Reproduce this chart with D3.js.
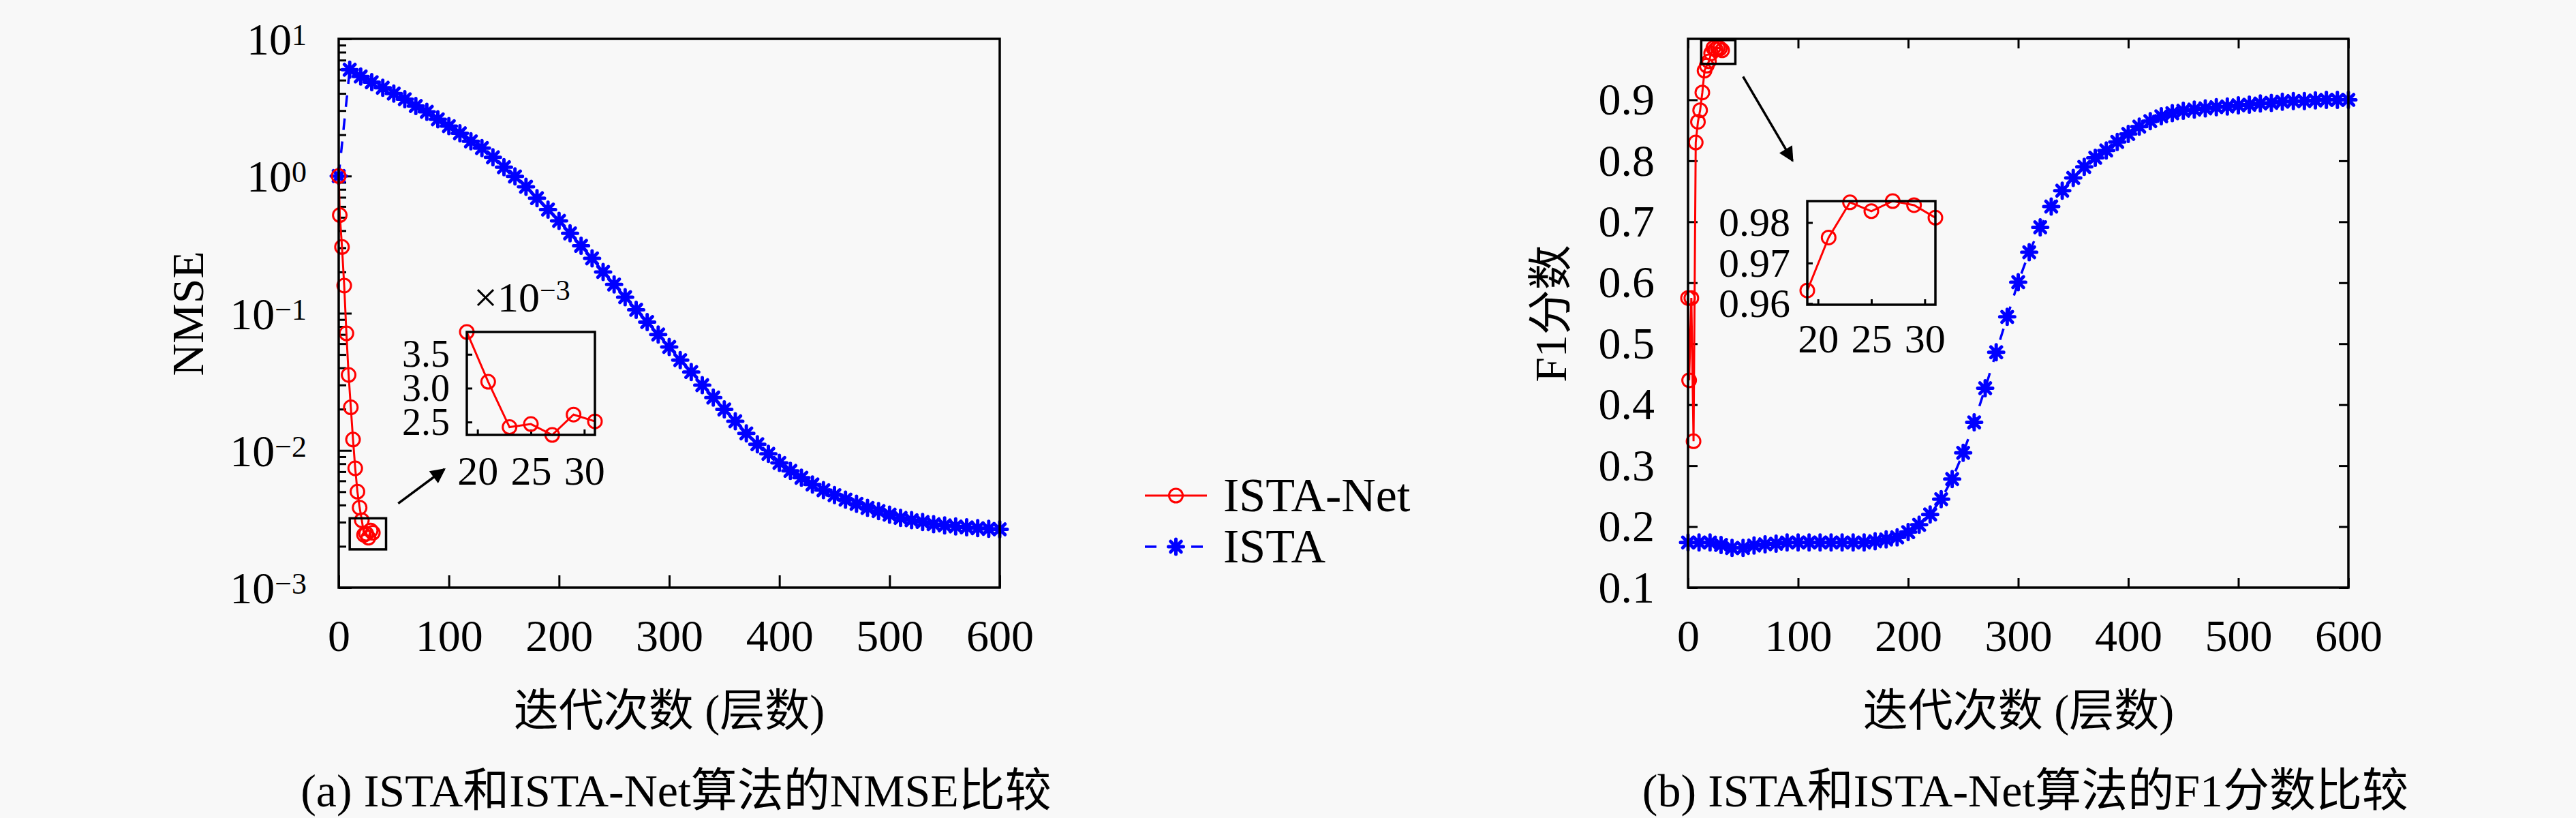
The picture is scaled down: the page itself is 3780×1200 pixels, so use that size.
<!DOCTYPE html>
<html>
<head>
<meta charset="utf-8">
<script src="https://cdn.jsdelivr.net/npm/d3@7"></script>
<style>
  body { margin: 0; background: #f8f8f8; }
  text { font-family: "Liberation Serif", "Noto Sans CJK SC", serif; fill: #000; }
</style>
</head>
<body>
<svg id="fig" width="3780" height="1200"></svg>
<script>
// ISTA-Net (one point per layer count)
var netLayers = [0, 1, 3, 5, 7, 9, 11, 13, 15, 17, 19, 21, 23, 25, 27, 29, 31];
var netNmse = [1.0, 0.519, 0.304, 0.159, 0.0713, 0.0355, 0.0206, 0.012, 0.0074, 0.005,
               0.00383, 0.003095, 0.002425, 0.00247, 0.00231, 0.00261, 0.00251];
var netF1 = [0.575, 0.44, 0.575, 0.34, 0.83, 0.864, 0.883, 0.912, 0.948, 0.956,
             0.9632, 0.9763, 0.985, 0.9828, 0.9853, 0.9843, 0.9812];

// ISTA (iterations)
var istaIters = [0, 10, 20, 30, 40, 50, 60, 70, 80, 90, 100, 110, 120, 130, 140, 150, 160, 170, 180, 190,
                 200, 210, 220, 230, 240, 250, 260, 270, 280, 290, 300, 310, 320, 330, 340, 350, 360, 370,
                 380, 390, 400, 410, 420, 430, 440, 450, 460, 470, 480, 490, 500, 510, 520, 530, 540, 550,
                 560, 570, 580, 590, 600];
var istaNmse = [1.0, 5.96, 5.32, 4.83, 4.40, 3.99, 3.63, 3.24, 2.94, 2.59, 2.31, 2.05, 1.79, 1.60, 1.37,
                1.16, 0.993, 0.836, 0.690, 0.570, 0.471, 0.382, 0.310, 0.251, 0.200, 0.162, 0.131, 0.106,
                0.0863, 0.0700, 0.0568, 0.0455, 0.0373, 0.0299, 0.0243, 0.0199, 0.0163, 0.0133, 0.0111,
                0.00944, 0.00811, 0.00710, 0.00632, 0.00565, 0.00513, 0.00472, 0.00438, 0.00408, 0.00381,
                0.00361, 0.00340, 0.00322, 0.00310, 0.00301, 0.00290, 0.00284, 0.00279, 0.00275, 0.00271,
                0.00268, 0.00266];
var istaF1 = [0.174, 0.174, 0.174, 0.170, 0.165, 0.165, 0.169, 0.171, 0.172, 0.174, 0.174, 0.174, 0.174,
              0.174, 0.174, 0.174, 0.174, 0.176, 0.179, 0.1825, 0.191, 0.203, 0.220, 0.245, 0.278, 0.321,
              0.371, 0.427, 0.486, 0.544, 0.601, 0.650, 0.691, 0.725, 0.751, 0.772, 0.790, 0.805, 0.817,
              0.831, 0.844, 0.856, 0.865, 0.873, 0.878, 0.882, 0.884, 0.886, 0.888, 0.889, 0.891, 0.892,
              0.894, 0.895, 0.897, 0.898, 0.898, 0.899, 0.900, 0.900, 0.900];

// tick labels
var xTicks = [0, 100, 200, 300, 400, 500, 600];
var nmseDecades = [1e-3, 1e-2, 1e-1, 1, 10];
var f1Ticks = [0.1, 0.2, 0.3, 0.4, 0.5, 0.6, 0.7, 0.8, 0.9];
var insetXTicks = [20, 25, 30];
var nmseInsetTicks = [2.5, 3.0, 3.5];
var f1InsetTicks = [0.96, 0.97, 0.98];

var seriesNames = ["ISTA-Net", "ISTA"];
var xLabel = "迭代次数 (层数)";
var captions = ["(a) ISTA和ISTA-Net算法的NMSE比较", "(b) ISTA和ISTA-Net算法的F1分数比较"];

var RED = "#ff0000", BLUE = "#0000ff";
var svg = d3.select("#fig");
svg.append("rect").attr("width", 3780).attr("height", 1200).attr("fill", "#f8f8f8");

var defs = svg.append("defs");
defs.append("marker").attr("id", "head")
  .attr("viewBox", "0 0 10 10").attr("refX", 9).attr("refY", 5)
  .attr("markerUnits", "userSpaceOnUse").attr("markerWidth", 26).attr("markerHeight", 22)
  .attr("orient", "auto")
  .append("path").attr("d", "M0,0L10,5L0,10Z").attr("fill", "#000");

function starPath(r) {
  var a = r * 0.7071;
  return "M" + (-r) + ",0L" + r + ",0M0," + (-r) + "L0," + r +
         "M" + (-a) + "," + (-a) + "L" + a + "," + a + "M" + (-a) + "," + a + "L" + a + "," + (-a);
}

function zip(xs, ys) { return xs.map(function(x, i) { return [x, ys[i]]; }); }

function drawSeries(g, pts, x, y, kind, r) {
  var line = d3.line().x(function(d) { return x(d[0]); }).y(function(d) { return y(d[1]); });
  if (kind === "net") {
    g.append("path").attr("d", line(pts)).attr("fill", "none")
      .attr("stroke", RED).attr("stroke-width", 3);
    g.selectAll(null).data(pts).enter().append("circle")
      .attr("cx", function(d) { return x(d[0]); }).attr("cy", function(d) { return y(d[1]); })
      .attr("r", r).attr("fill", "none").attr("stroke", RED).attr("stroke-width", 3);
  } else {
    g.append("path").attr("d", line(pts)).attr("fill", "none")
      .attr("stroke", BLUE).attr("stroke-width", 3.5).attr("stroke-dasharray", "17,17");
    g.selectAll(null).data(pts).enter().append("path")
      .attr("transform", function(d) { return "translate(" + x(d[0]) + "," + y(d[1]) + ")"; })
      .attr("d", starPath(11)).attr("stroke", BLUE).attr("stroke-width", 5)
      .attr("stroke-linecap", "round");
  }
}

function styleAxis(g, size) {
  g.select(".domain").remove();
  g.selectAll("line").attr("stroke", "#000").attr("stroke-width", 3);
  g.selectAll("text").attr("font-family", "Liberation Serif").attr("font-size", size).attr("fill", "#000");
}

function frame(g, x, y) {
  g.append("rect")
    .attr("x", x.range()[0]).attr("y", y.range()[1])
    .attr("width", x.range()[1] - x.range()[0]).attr("height", y.range()[0] - y.range()[1])
    .attr("fill", "none").attr("stroke", "#000").attr("stroke-width", 3.5);
}

function arrow(g, x, y, from, to) {
  g.append("line")
    .attr("x1", x(from[0])).attr("y1", y(from[1])).attr("x2", x(to[0])).attr("y2", y(to[1]))
    .attr("stroke", "#000").attr("stroke-width", 3.5).attr("marker-end", "url(#head)");
}

function zoomBox(g, x, y, xs, ys) {
  g.append("rect")
    .attr("x", x(xs[0])).attr("y", y(ys[1]))
    .attr("width", x(xs[1]) - x(xs[0])).attr("height", y(ys[0]) - y(ys[1]))
    .attr("fill", "none").attr("stroke", "#000").attr("stroke-width", 3.5);
}

function labels(g, x, y, cx, yLabel, caption) {
  g.append("text").attr("x", cx).attr("y", 1065).attr("text-anchor", "middle")
    .attr("font-size", 66).text(xLabel);
  g.append("text").attr("transform", "translate(" + yLabel.x + ",460) rotate(-90)")
    .attr("text-anchor", "middle").attr("font-size", 66).text(yLabel.text);
  g.append("text").attr("x", cx + 10).attr("y", 1183).attr("text-anchor", "middle")
    .attr("font-size", 68).text(caption);
}

// (a) NMSE
function drawNmse() {
  var g = svg.append("g");
  var x = d3.scaleLinear().domain([0, 600]).range([497, 1467]);
  var y = d3.scaleLog().domain([1e-3, 10]).range([862, 57]);

  var minor = y.ticks().filter(function(v) { return nmseDecades.indexOf(v) < 0; });
  g.append("g").attr("transform", "translate(497,0)")
    .call(d3.axisLeft(y).tickValues(minor).tickSize(-11).tickFormat(""))
    .call(styleAxis, 66);
  g.append("g").attr("transform", "translate(497,0)")
    .call(d3.axisLeft(y).tickValues(nmseDecades).tickSize(-19).tickFormat(""))
    .call(styleAxis, 66);
  var lab = g.selectAll(null).data(nmseDecades).enter().append("text")
    .attr("x", 450).attr("y", function(d) { return y(d) + 23; })
    .attr("text-anchor", "end").attr("font-size", 66);
  lab.append("tspan").text("10");
  lab.append("tspan").attr("dy", -14).attr("font-size", 44)
    .text(function(d) { var e = Math.round(Math.log10(d)); return e < 0 ? "\u2212" + (-e) : e; });

  g.append("g").attr("transform", "translate(0,862)")
    .call(d3.axisBottom(x).tickValues(xTicks).tickSize(-18).tickPadding(46))
    .call(styleAxis, 66);

  drawSeries(g, zip(istaIters, istaNmse), x, y, "ista");
  drawSeries(g, zip(netLayers, netNmse), x, y, "net", 10);
  frame(g, x, y);
  zoomBox(g, x, y, [10, 43], [0.0019, 0.0032]);
  arrow(g, x, y, [54, 0.0041], [96, 0.0073]);

  // inset, values in units of 1e-3
  var pts = zip(netLayers, netNmse.map(function(v) { return v * 1000; }))
    .filter(function(d) { return d[0] >= 19; });
  var ix = d3.scaleLinear().domain([19, 31]).range([685, 873]);
  var iy = d3.scaleLinear().domain(d3.extent(pts, function(d) { return d[1]; })).range([638, 487]);
  g.append("g").attr("transform", "translate(685,0)")
    .call(d3.axisLeft(iy).tickValues(nmseInsetTicks).tickSize(-8).tickPadding(25).tickFormat(d3.format(".1f")))
    .call(styleAxis, 56);
  g.append("g").attr("transform", "translate(0,638)")
    .call(d3.axisBottom(ix).tickValues(insetXTicks).tickSize(-8).tickPadding(30))
    .call(styleAxis, 60);
  drawSeries(g, pts, ix, iy, "net", 10);
  frame(g, ix, iy);
  var t = g.append("text").attr("x", 695).attr("y", 457).attr("font-size", 62);
  t.append("tspan").text("\u00d710");
  t.append("tspan").attr("dy", -17).attr("font-size", 42).text("\u22123");

  labels(g, x, y, 982, { x: 298, text: "NMSE" }, captions[0]);
}

// (b) F1
function drawF1() {
  var g = svg.append("g");
  var x = d3.scaleLinear().domain([0, 600]).range([2477, 3446]);
  var y = d3.scaleLinear().domain([0.1, 1.0]).range([862, 57]);

  g.append("g").attr("transform", "translate(2477,0)")
    .call(d3.axisLeft(y).tickValues(f1Ticks).tickSize(-14).tickPadding(49).tickFormat(d3.format(".1f")))
    .call(styleAxis, 66);
  g.append("g").attr("transform", "translate(3446,0)")
    .call(d3.axisRight(y).tickValues(f1Ticks).tickSize(-14).tickFormat(""))
    .call(styleAxis, 66);
  g.append("g").attr("transform", "translate(0,862)")
    .call(d3.axisBottom(x).tickValues(xTicks).tickSize(-14).tickPadding(46))
    .call(styleAxis, 66);
  g.append("g").attr("transform", "translate(0,57)")
    .call(d3.axisTop(x).tickValues(xTicks).tickSize(-14).tickFormat(""))
    .call(styleAxis, 66);

  drawSeries(g, zip(istaIters, istaF1), x, y, "ista");
  drawSeries(g, zip(netLayers, netF1), x, y, "net", 10);
  frame(g, x, y);
  zoomBox(g, x, y, [12, 43], [0.959, 0.998]);
  arrow(g, x, y, [50, 0.938], [95, 0.800]);

  var pts = zip(netLayers, netF1).filter(function(d) { return d[0] >= 19; });
  var ix = d3.scaleLinear().domain([19, 31]).range([2652, 2840]);
  var iy = d3.scaleLinear().domain([0.9597, 0.9853]).range([447, 295]);
  g.append("g").attr("transform", "translate(2652,0)")
    .call(d3.axisLeft(iy).tickValues(f1InsetTicks).tickSize(-8).tickPadding(25).tickFormat(d3.format(".2f")))
    .call(styleAxis, 60);
  g.append("g").attr("transform", "translate(0,447)")
    .call(d3.axisBottom(ix).tickValues(insetXTicks).tickSize(-8).tickPadding(27))
    .call(styleAxis, 60);
  drawSeries(g, pts, ix, iy, "net", 10);
  frame(g, ix, iy);

  labels(g, x, y, 2962, { x: 2298, text: "F1分数" }, captions[1]);
}

function drawLegend() {
  var g = svg.append("g");
  var rows = [{ name: seriesNames[0], kind: "net", y: 727 }, { name: seriesNames[1], kind: "ista", y: 802 }];
  rows.forEach(function(row) {
    var lx = d3.scaleLinear().domain([0, 1]).range([1680, 1771]);
    var ly = function() { return row.y; };
    drawSeries(g, [[0, 0], [0.5, 0], [1, 0]], lx, ly, row.kind, 10);
    g.append("text").attr("x", 1795).attr("y", row.y + 23).attr("font-size", 70).text(row.name);
  });
  // only the middle marker is shown in the legend
  g.selectAll("circle").filter(function(d) { return d[0] !== 0.5; }).remove();
  g.selectAll("path").filter(function(d) { return d && d[0] !== 0.5; }).remove();
}

drawNmse();
drawF1();
drawLegend();
</script>
</body>
</html>
